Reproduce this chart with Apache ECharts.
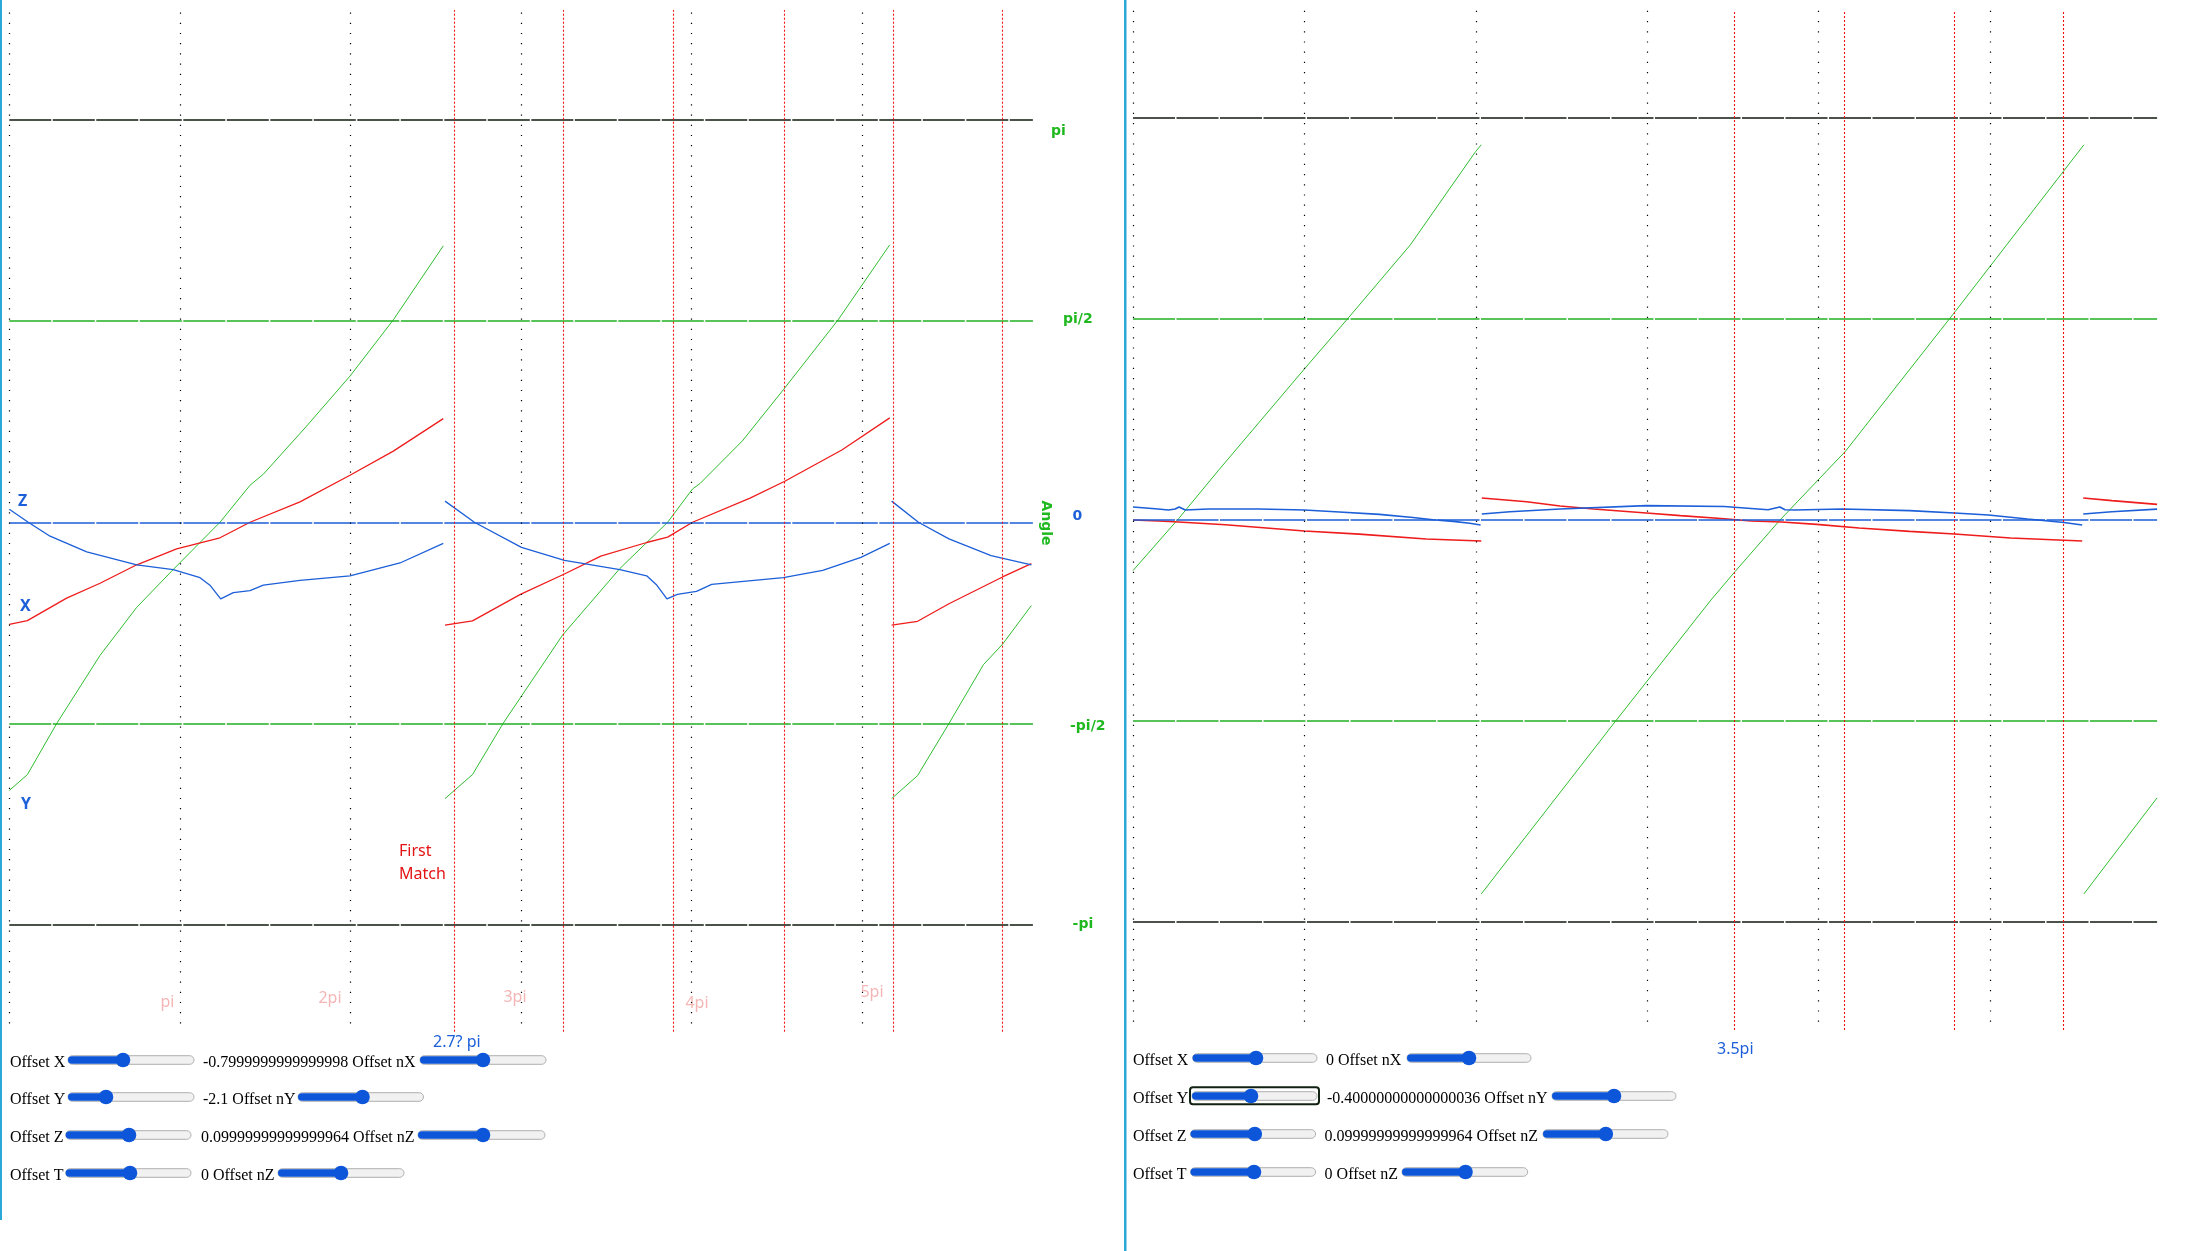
<!DOCTYPE html>
<html><head><meta charset="utf-8">
<script src="https://cdn.jsdelivr.net/npm/echarts@6/dist/echarts.min.js"></script>
<style>html,body{margin:0;padding:0;background:#fff;overflow:hidden}#c{width:2199px;height:1251px}</style>
</head><body><div id="c"></div>
<script>
// x in units of pi, y in radians
const PI = Math.PI;
// ---------- left panel data ----------
const leftY1 = [[0,-2.094],[0.106,-1.970],[0.278,-1.571],[0.532,-1.039],[0.747,-0.664],[0.952,-0.381],[1.235,0],[1.411,0.289],[1.489,0.375],[1.743,0.751],[1.997,1.141],[2.251,1.580],[2.544,2.158]];
const leftY2 = [[2.554,-2.157],[2.715,-1.970],[2.894,-1.571],[3.243,-0.881],[3.579,-0.361],[3.859,0],[4.005,0.260],[4.050,0.304],[4.297,0.635],[4.537,1.034],[4.858,1.580],[5.161,2.166]];
const leftY3 = [[5.172,-2.157],[5.324,-1.978],[5.508,-1.571],[5.710,-1.112],[5.822,-0.952],[5.991,-0.650]];
const leftX1 = [[0,-0.797],[0.106,-0.768],[0.336,-0.592],[0.532,-0.476],[0.747,-0.332],[0.981,-0.208],[1.235,-0.121],[1.411,0],[1.704,0.159],[1.997,0.367],[2.251,0.555],[2.544,0.809]];
const leftX2 = [[2.554,-0.803],[2.715,-0.770],[2.996,-0.563],[3.254,-0.404],[3.467,-0.265],[3.736,-0.158],[3.859,-0.116],[4.005,0],[4.342,0.188],[4.543,0.318],[4.880,0.564],[5.161,0.815]];
const leftX3 = [[5.172,-0.803],[5.324,-0.773],[5.508,-0.636],[5.822,-0.427],[5.991,-0.323]];
const leftZ1 = [[0,0.101],[0.111,0],[0.239,-0.109],[0.454,-0.231],[0.747,-0.332],[0.961,-0.369],[1.118,-0.433],[1.176,-0.491],[1.239,-0.598],[1.313,-0.549],[1.411,-0.534],[1.489,-0.491],[1.704,-0.454],[1.997,-0.419],[2.290,-0.318],[2.544,-0.165]];
const leftZ2 = [[2.554,0.165],[2.726,0],[3.002,-0.196],[3.254,-0.297],[3.579,-0.369],[3.736,-0.418],[3.795,-0.490],[3.855,-0.598],[3.916,-0.563],[4.028,-0.539],[4.117,-0.485],[4.537,-0.433],[4.768,-0.376],[4.992,-0.274],[5.161,-0.165]];
const leftZ3 = [[5.172,0.165],[5.329,0],[5.508,-0.130],[5.755,-0.260],[5.991,-0.332]];
// ---------- right panel data ----------
const rightY1 = [[0,-0.395],[0.267,0.012],[0.5,0.39],[1.0,1.18],[1.254,1.575],[1.618,2.149],[2.0,2.88],[2.032,2.931]];
const rightY2 = [[2.032,-2.921],[2.815,-1.572],[3.372,-0.625],[3.513,-0.402],[3.775,0],[4.158,0.539],[4.803,1.639],[5.548,2.931]];
const rightY3 = [[5.548,-2.921],[5.975,-2.170]];
const rightX1 = [[0,0],[0.149,-0.008],[0.266,-0.016],[0.539,-0.037],[1.0,-0.086],[1.320,-0.110],[1.711,-0.149],[2.032,-0.164]];
const rightX2 = [[2.035,0.172],[2.297,0.143],[2.492,0.109],[2.688,0.086],[2.995,0.055],[3.194,0.034],[3.450,0.010],[3.607,-0.008],[3.784,-0.016],[3.989,-0.034],[4.236,-0.063],[4.531,-0.089],[4.793,-0.109],[5.120,-0.141],[5.538,-0.164]];
const rightX3 = [[5.544,0.172],[5.711,0.151],[5.975,0.122]];
const rightZ1 = [[0,0.102],[0.129,0.088],[0.207,0.078],[0.246,0.086],[0.269,0.102],[0.305,0.078],[0.442,0.086],[0.735,0.086],[1.0,0.078],[1.204,0.062],[1.438,0.044],[1.633,0.020],[1.75,0.002],[1.868,-0.011],[1.965,-0.026],[2.028,-0.039]];
const rightZ2 = [[2.035,0.047],[2.199,0.065],[2.492,0.086],[2.995,0.112],[3.450,0.106],[3.548,0.096],[3.705,0.080],[3.774,0.102],[3.804,0.080],[3.862,0.078],[4.138,0.086],[4.531,0.073],[4.793,0.055],[4.991,0.039],[5.219,0.008],[5.432,-0.019],[5.538,-0.039]];
const rightZ3 = [[5.544,0.047],[5.711,0.065],[5.975,0.085]];
// ---------- reference lines / ticks ----------
const refAngles = [PI, PI/2, 0, -PI/2, -PI];
const refLabels = ['pi', 'pi/2', '0', '-pi/2', '-pi'];
const piTicks = [0, 1, 2, 3, 4, 5];
const leftMatchLines = [2.606, 3.254, 3.893, 4.537, 5.176, 5.822];
const rightMatchLines = [3.506, 4.146, 4.793, 5.432];
const xTickLabels = ['pi', '2pi', '3pi', '4pi', '5pi'];
const xTickLabelPos = [[0.927,-3.750],[1.880,-3.721],[2.964,-3.711],[4.031,-3.760],[5.057,-3.674]];

// ---------- styles ----------
const C_GREEN = '#30bd30', C_RED = '#ee1c1c', C_BLUE = '#1c5fd8';
const refColors = ['#0f1a0f', '#22b022', '#1c5fd8', '#22b022', '#0f1a0f'];
const TXT_GREEN = '#1fb81f';

const chart = echarts.init(document.getElementById('c'), null, {renderer: 'canvas'});

function curve(g, data, color, w) {
  return {type: 'line', xAxisIndex: g, yAxisIndex: g, data: data, showSymbol: false, symbol: 'none',
    lineStyle: {color: color, width: w}, z: 3, silent: true, animation: false};
}
function refSeries(g, vLines) {
  const md = [];
  refAngles.forEach((a, i) => md.push({yAxis: a, lineStyle: {color: refColors[i], width: 1.6, type: [42, 1.5]}}));
  piTicks.forEach(t => md.push({xAxis: t, lineStyle: {color: '#000', width: 1.2, type: [1.2, 9], dashOffset: 2}}));
  vLines.forEach(t => md.push({xAxis: t, lineStyle: {color: '#f01010', width: 1.1, type: [2, 2]}}));
  return {type: 'line', xAxisIndex: g, yAxisIndex: g, data: [], z: 1, silent: true, animation: false,
    markLine: {symbol: ['none', 'none'], silent: true, animation: false, label: {show: false}, data: md}};
}

const series = [
  refSeries(0, leftMatchLines), refSeries(1, rightMatchLines),
  curve(0, leftY1, C_GREEN, 1), curve(0, leftY2, C_GREEN, 1), curve(0, leftY3, C_GREEN, 1),
  curve(0, leftX1, C_RED, 1.3), curve(0, leftX2, C_RED, 1.3), curve(0, leftX3, C_RED, 1.3),
  curve(0, leftZ1, C_BLUE, 1.3), curve(0, leftZ2, C_BLUE, 1.3), curve(0, leftZ3, C_BLUE, 1.3),
  curve(1, rightY1, C_GREEN, 1), curve(1, rightY2, C_GREEN, 1), curve(1, rightY3, C_GREEN, 1),
  curve(1, rightX1, C_RED, 1.6), curve(1, rightX2, C_RED, 1.6), curve(1, rightX3, C_RED, 1.6),
  curve(1, rightZ1, C_BLUE, 1.6), curve(1, rightZ2, C_BLUE, 1.6), curve(1, rightZ3, C_BLUE, 1.6),
  {type: 'scatter', xAxisIndex: 0, yAxisIndex: 0, symbolSize: 1, itemStyle: {color: 'rgba(0,0,0,0)'}, silent: true, animation: false,
    data: xTickLabelPos.map((p, i) => ({value: p, name: xTickLabels[i]})),
    label: {show: true, position: 'inside', formatter: p => p.name, color: '#f2a3a3', fontFamily: 'Noto Sans', fontSize: 16}}
];

const axisOff = {show: false, splitLine: {show: false}};
chart.setOption({
  animation: false,
  grid: [
    {left: 9.3, top: 10, width: 1023.6, height: 1021.7},
    {left: 1133, top: 10, width: 1024.1, height: 1020}
  ],
  xAxis: [
    Object.assign({type: 'value', gridIndex: 0, min: 0, max: 6}, axisOff),
    Object.assign({type: 'value', gridIndex: 1, min: 0, max: 5.975}, axisOff)
  ],
  yAxis: [
    Object.assign({type: 'value', gridIndex: 0, min: -3.977, max: 3.999}, axisOff),
    Object.assign({type: 'value', gridIndex: 1, min: -3.984, max: 3.984}, axisOff)
  ],
  series: series
});

// ---------- annotations & controls ----------
const G = [];
function txt(t, x, y, font, fill, opt) {
  G.push(Object.assign({type: 'text', x: x, y: y, silent: true, style: {text: t, font: font, fill: fill, align: 'left', verticalAlign: 'middle'}}, opt || {}));
}
// panel borders
G.push({type: 'rect', silent: true, shape: {x: 0, y: 0, width: 2, height: 1220}, style: {fill: '#2aa8d6'}});
G.push({type: 'rect', silent: true, shape: {x: 1124, y: 0, width: 2.5, height: 1251}, style: {fill: '#2aa8d6'}});

// right-hand angle labels of left panel
const labelX = [1051, 1063, 1072.6, 1070, 1072.6];
const labelDy = [12, -2, -6, 3, 0];
refAngles.forEach((a, i) => {
  const py = chart.convertToPixel({yAxisIndex: 0}, a);
  txt(refLabels[i], labelX[i], py + labelDy[i], 'bold 14px "DejaVu Sans"', i === 2 ? C_BLUE : TXT_GREEN);
});
G.push({type: 'text', x: 1045.5, y: 523, rotation: -Math.PI / 2, silent: true,
  style: {text: 'Angle', font: 'bold 14px "DejaVu Sans"', fill: TXT_GREEN, align: 'center', verticalAlign: 'middle'}});
// curve labels
txt('Z', 18, 501, 'bold 16px "Noto Sans"', C_BLUE);
txt('X', 20, 606.5, 'bold 16px "Noto Sans"', C_BLUE);
txt('Y', 21, 804, 'bold 16px "Noto Sans"', C_BLUE);
txt('First', 399, 851, '16px "Noto Sans"', '#e41414');
txt('Match', 399, 874.5, '16px "Noto Sans"', '#e41414');
txt('2.7? pi', 433, 1042, '16px "Noto Sans"', C_BLUE);
txt('3.5pi', 1717, 1049, '16px "Noto Sans"', C_BLUE);

// sliders
const SB = '#0d56d9';
function slider(x1, x2, yc, tx, focus) {
  G.push({type: 'rect', silent: true, shape: {x: x1, y: yc - 4.3, width: x2 - x1, height: 8.6, r: 4.3}, style: {fill: '#f1f1f1', stroke: '#b0b0b0', lineWidth: 1}});
  G.push({type: 'rect', silent: true, shape: {x: x1, y: yc - 3.7, width: tx - x1, height: 7.4, r: 3.7}, style: {fill: SB}});
  G.push({type: 'circle', silent: true, shape: {cx: tx, cy: yc, r: 7.3}, style: {fill: SB}});
  if (focus) G.push({type: 'rect', silent: true, shape: {x: x1 - 2, y: yc - 8.7, width: x2 - x1 + 4, height: 17, r: 3}, style: {fill: 'none', stroke: '#122212', lineWidth: 2}});
}
const SERIF = '16px "Liberation Serif"';
const rows = [
  // [labelX, yc, s1x1, s1x2, thumb1, textX, label, text, s2x1, s2x2, thumb2, focus]
  [10, 1060, 68, 194, 123, 203, 'Offset X', '-0.7999999999999998 Offset nX', 420, 546, 483, false],
  [10, 1097, 68, 194, 106, 203, 'Offset Y', '-2.1 Offset nY', 298, 423.5, 362.5, false],
  [10, 1135, 65.7, 191, 129, 201, 'Offset Z', '0.09999999999999964 Offset nZ', 418, 545, 483, false],
  [10, 1173, 65.7, 191, 130, 201, 'Offset T', '0 Offset nZ', 278, 404, 341, false],
  [1133, 1058, 1192.6, 1317, 1256, 1326, 'Offset X', '0 Offset nX', 1407, 1531, 1469, false],
  [1133, 1096, 1192, 1317, 1251, 1327, 'Offset Y', '-0.40000000000000036 Offset nY', 1552, 1676, 1614, true],
  [1133, 1134, 1190.5, 1315.6, 1254.8, 1324.6, 'Offset Z', '0.09999999999999964 Offset nZ', 1543, 1668, 1605.8, false],
  [1133, 1172, 1190.5, 1315.6, 1254, 1324.6, 'Offset T', '0 Offset nZ', 1402, 1527.7, 1465.5, false]
];
rows.forEach(r => {
  txt(r[6], r[0], r[1] + 3, SERIF, '#000');
  slider(r[2], r[3], r[1], r[4], r[11]);
  txt(r[7], r[5], r[1] + 3, SERIF, '#000');
  slider(r[8], r[9], r[1], r[10], false);
});

chart.setOption({graphic: {elements: G}});
</script></body></html>
